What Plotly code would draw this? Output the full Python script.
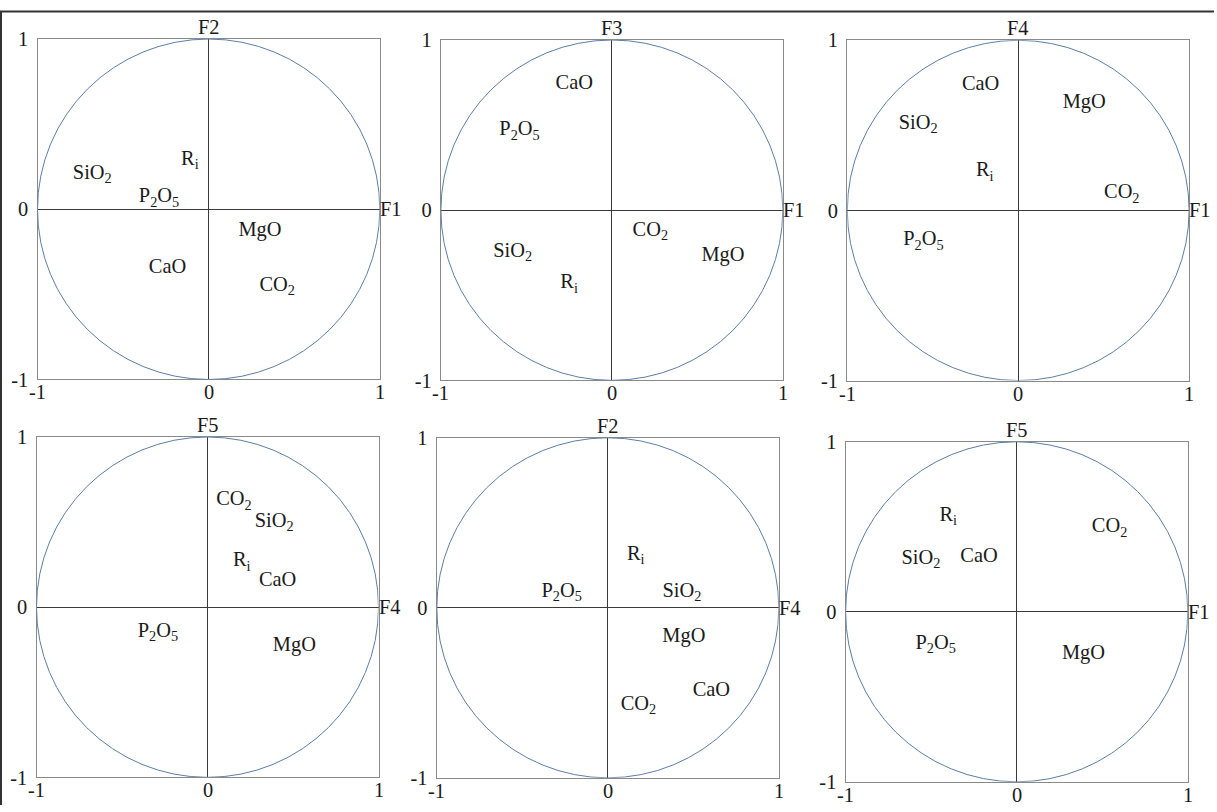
import plotly.graph_objects as go

# Component labels shown in every correlation circle
labels = ["SiO<sub>2</sub>", "R<sub>i</sub>", "P<sub>2</sub>O<sub>5</sub>", "MgO", "CaO", "CO<sub>2</sub>"]

# Axis names for each panel (horizontal, vertical)
x_names = ["F1", "F1", "F1", "F4", "F4", "F1"]
y_names = ["F2", "F3", "F4", "F5", "F2", "F5"]

# Loadings per panel, in the order of `labels`
p1_x = [-0.68, -0.11, -0.29, 0.30, -0.24, 0.40]
p1_y = [0.21, 0.29, 0.07, -0.125, -0.345, -0.45]

p2_x = [-0.58, -0.25, -0.54, 0.65, -0.22, 0.225]
p2_y = [-0.245, -0.43, 0.47, -0.27, 0.74, -0.12]

p3_x = [-0.585, -0.196, -0.555, 0.386, -0.22, 0.606]
p3_y = [0.51, 0.23, -0.176, 0.63, 0.74, 0.10]

p4_x = [0.39, 0.20, -0.29, 0.508, 0.41, 0.155]
p4_y = [0.50, 0.27, -0.145, -0.225, 0.157, 0.628]

p5_x = [0.433, 0.163, -0.27, 0.445, 0.606, 0.179]
p5_y = [0.094, 0.314, 0.094, -0.172, -0.486, -0.572]

p6_x = [-0.56, -0.40, -0.474, 0.39, -0.22, 0.543]
p6_y = [0.314, 0.563, -0.19, -0.25, 0.32, 0.498]

tick_vals = [-1, 0, 1]
tick_text = ["-1", "0", "1"]

panels_x = [p1_x, p2_x, p3_x, p4_x, p5_x, p6_x]
panels_y = [p1_y, p2_y, p3_y, p4_y, p5_y, p6_y]

# Figure size in pixels
W, H = 1214, 816

# plot boxes in figure pixels: left, top, right, bottom
boxes = [
    (37.5, 28.8, 379.8, 378.7),
    (440.9, 29.8, 782.8, 379.6),
    (847.3, 30.1, 1189.1, 379.8),
    (36.5, 437.8, 378.5, 787.6),
    (436.8, 438.6, 778.8, 788.1),
    (845.6, 442.7, 1187.8, 792.2),
]

FONT = "Liberation Serif, Times New Roman, serif"
TEXT_COLOR = "#1a1a1a"
BOX_COLOR = "#8a8a8a"
CROSS_COLOR = "#3a3a3a"
CIRCLE_COLOR = "#5b7ea6"
FS = 20.4

fig = go.Figure()
layout = dict(
    width=W, height=H,
    margin=dict(l=0, r=0, t=0, b=0),
    paper_bgcolor="white", plot_bgcolor="white",
    showlegend=False,
    shapes=[], annotations=[],
)

for i in range(6):
    n = "" if i == 0 else str(i + 1)
    xa, ya = "x" + n, "y" + n
    l, t, r, b = boxes[i]
    axis_common = dict(
        range=[-1, 1], showgrid=False,
        zeroline=True, zerolinecolor=CROSS_COLOR, zerolinewidth=1,
        showline=True, linecolor=BOX_COLOR, linewidth=1.3, mirror=True,
        tickvals=tick_vals, ticktext=tick_text, ticks="",
        tickfont=dict(family=FONT, size=FS, color=TEXT_COLOR),
        fixedrange=True,
    )
    layout["xaxis" + n] = dict(axis_common, domain=[l / W, r / W], anchor=ya, showticklabels=False)
    layout["yaxis" + n] = dict(axis_common, domain=[1 - b / H, 1 - t / H], anchor=xa, ticklabelstandoff=4)

    # horizontal tick labels, set close under the box
    for v, s in zip(tick_vals, tick_text):
        layout["annotations"].append(dict(
            x=v, y=-1, xref=xa, yref=ya, text=s, showarrow=False,
            xanchor="center", yanchor="middle", yshift=-13,
            font=dict(family=FONT, size=FS, color=TEXT_COLOR),
        ))

    # unit correlation circle
    layout["shapes"].append(dict(
        type="circle", xref=xa, yref=ya, x0=-1, x1=1, y0=-1, y1=1,
        line=dict(color=CIRCLE_COLOR, width=1), layer="above",
    ))
    # axis names
    layout["annotations"].append(dict(
        x=0, y=1, xref=xa, yref=ya, text=y_names[i], showarrow=False,
        xanchor="center", yanchor="bottom", yshift=-1,
        font=dict(family=FONT, size=FS, color=TEXT_COLOR),
    ))
    layout["annotations"].append(dict(
        x=1, y=0, xref=xa, yref=ya, text=x_names[i], showarrow=False,
        xanchor="left", yanchor="middle", xshift=-2,
        font=dict(family=FONT, size=FS, color=TEXT_COLOR),
    ))

    fig.add_trace(go.Scatter(
        x=panels_x[i], y=panels_y[i], text=labels, mode="text",
        textposition="middle center",
        textfont=dict(family=FONT, size=FS, color=TEXT_COLOR),
        xaxis=xa, yaxis=ya, hoverinfo="skip",
    ))

# frame along the top and left of the figure
layout["shapes"].append(dict(
    type="path", xref="paper", yref="paper",
    path=f"M {1 / W} 0 L {1 / W} {1 - 0.5 / H} L 1 {1 - 0.5 / H}",
    line=dict(color="#333333", width=2),
))

fig.update_layout(**layout)
fig.write_html("out.html")
